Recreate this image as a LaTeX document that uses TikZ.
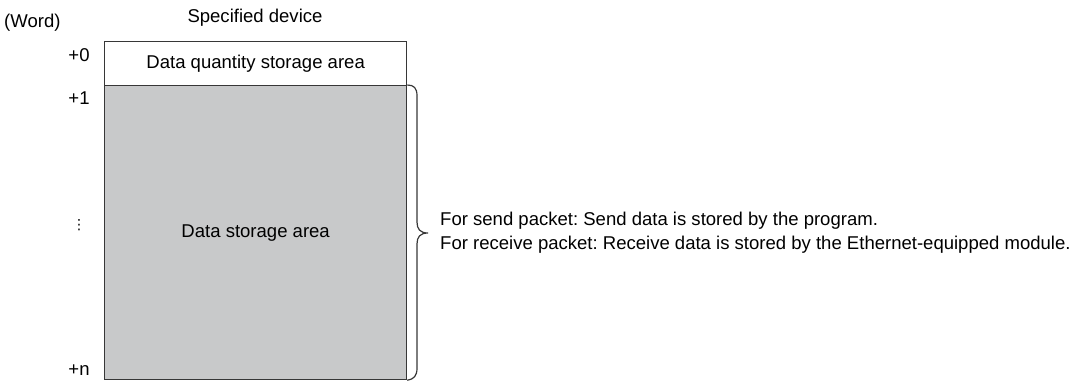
\documentclass[tikz,border=0pt]{standalone}
\usepackage{fontspec}
\setmainfont{Liberation Sans}
\newfontfamily\symfont{DejaVu Sans}
\definecolor{areagray}{RGB}{200,201,202}
\definecolor{linegray}{RGB}{55,55,55}
\frenchspacing
\begin{document}
\begin{tikzpicture}[x=1bp,y=-1bp,
  lbl/.style={font=\fontsize{18.6}{22}\selectfont, inner sep=0pt, text=black},
  cell/.style={draw=linegray, line width=1.3bp},
  bracepath/.style={draw=linegray, line width=1.2bp}]
\useasboundingbox (0,0) rectangle (1080,381);
% cells
\node[cell, fill=white, minimum width=302bp, minimum height=44bp, anchor=north west, inner sep=0pt] (qty) at (104,41) {};
\node[cell, fill=areagray, minimum width=302bp, minimum height=294bp, anchor=north west, inner sep=0pt] (data) at (104,85) {};
\node[lbl] (qtytext) at (qty.center) {Data quantity storage area};
\node[lbl] (datatext) at (data.center) {Data storage area};
% headers
\node[lbl, anchor=base west] (word) at (4,27) {(Word)};
\node[lbl, anchor=base] (dev) at (255,22) {Specified device};
% offsets
\node[lbl, anchor=base] (p0) at (79,61) {+0};
\node[lbl, anchor=base] (p1) at (79,104) {+1};
\node[lbl] (dots) at (79,225) {\symfont\fontsize{14}{15}\selectfont ⋮};
\node[lbl, anchor=base] (pn) at (79,375) {+n};
% brace
\coordinate (btop) at (data.north east);
\coordinate (bbot) at (data.south east);
\coordinate (btip) at (428,233);
\draw[bracepath] (btop) .. controls (414,85) and (417,88) .. (417,96)
  -- (417,222) .. controls (417,229) and (420,233) .. (btip)
  .. controls (420,233) and (417,237) .. (417,244)
  -- (417,368) .. controls (417,376) and (414,379) .. (bbot);
% description
\node[lbl, anchor=base west] (l1) at (440,225) {For send packet: Send data is stored by the program.};
\node[lbl, anchor=base west] (l2) at (440,249) {For receive packet: Receive data is stored by the Ethernet-equipped module.};
\end{tikzpicture}
\end{document}
